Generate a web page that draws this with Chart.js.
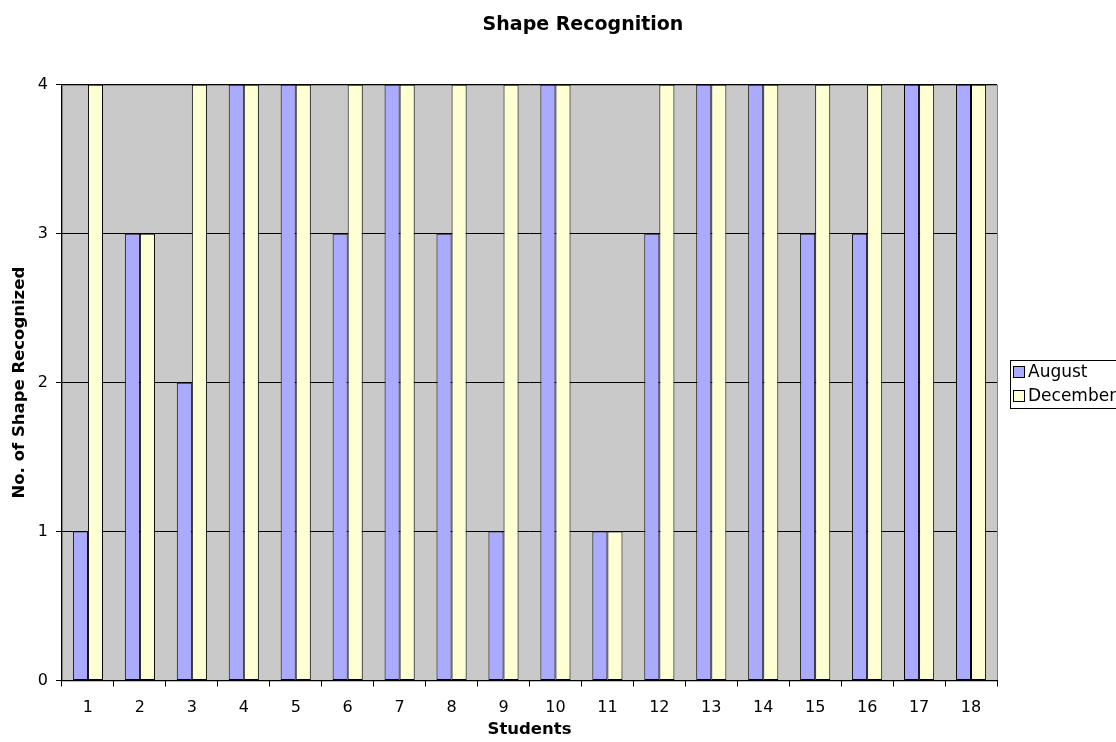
<!DOCTYPE html>
<html>
<head>
<meta charset="utf-8">
<script src="https://cdn.jsdelivr.net/npm/chart.js@4"></script>
<style>
  body { margin: 0; background: #fff; }
  #wrap { width: 1116px; height: 742px; }
</style>
</head>
<body>
<div id="wrap"><canvas id="myChart" width="1116" height="742"></canvas></div>
<script>
const students = ["1","2","3","4","5","6","7","8","9","10","11","12","13","14","15","16","17","18"];
const august   = [1,3,2,4,4,3,4,3,1,4,1,3,4,4,3,3,4,4];
const december = [4,3,4,4,4,4,4,4,4,4,1,4,4,4,4,4,4,4];
const yTicks   = [0,1,2,3,4];

const FONT = "'DejaVu Sans', Verdana, sans-serif";

// grey plot background, boxed legend on the right, title shifted like the original
const plotBg = {
  id: "plotBg",
  afterLayout(chart) {
    // original title is centred a bit right of the plot
    if (chart.titleBlock) {
      chart.titleBlock.left = 50;
      chart.titleBlock.right = chart.width;
    }
  },
  beforeDraw(chart) {
    const { ctx, chartArea: a } = chart;
    ctx.save();
    ctx.fillStyle = "#c9c9c9";
    ctx.fillRect(a.left, a.top, a.right - a.left, a.bottom - a.top);
    ctx.strokeStyle = "#808080";
    ctx.lineWidth = 1;
    ctx.strokeRect(a.left + 0.5, a.top + 0.5, a.right - a.left, a.bottom - a.top);
    ctx.restore();
  },
  afterDraw(chart) {
    const ctx = chart.ctx;
    const a = chart.chartArea;
    const x0 = a.right + 13;
    const top = 360;
    const rowH = 24;
    const sets = chart.data.datasets;
    ctx.save();
    ctx.strokeStyle = "#000";
    ctx.lineWidth = 1;
    ctx.strokeRect(x0 + 0.5, top + 0.5, 130, 48);
    ctx.font = "17px " + FONT;
    ctx.textBaseline = "middle";
    sets.forEach((d, i) => {
      const cy = top + 12 + i * rowH;
      ctx.fillStyle = d.backgroundColor;
      ctx.fillRect(x0 + 3, cy - 5, 11, 11);
      ctx.strokeStyle = "#000";
      ctx.strokeRect(x0 + 3.5, cy - 5.5, 11, 11);
      ctx.fillStyle = "#000";
      ctx.fillText(d.label, x0 + 18, cy + 1);
    });
    ctx.restore();
  },
};

new Chart(document.getElementById("myChart"), {
  type: "bar",
  data: {
    labels: students,
    datasets: [
      {
        label: "August",
        data: august,
        backgroundColor: "#aaaaff",
        borderColor: "#000",
        borderWidth: 1,
        borderSkipped: false,
        barPercentage: 1,
        categoryPercentage: 0.58,
      },
      {
        label: "December",
        data: december,
        backgroundColor: "#ffffd4",
        borderColor: "#000",
        borderWidth: 1,
        borderSkipped: false,
        barPercentage: 1,
        categoryPercentage: 0.58,
      },
    ],
  },
  options: {
    responsive: false,
    animation: false,
    layout: { padding: { left: 4, right: 119, top: 0, bottom: 4 } },
    plugins: {
      title: {
        display: true,
        text: "Shape Recognition",
        color: "#000",
        font: { family: FONT, size: 19, weight: "bold" },
        padding: { top: 14, bottom: 48 },
      },
      legend: { display: false },
      tooltip: { enabled: false },
    },
    scales: {
      x: {
        grid: {
          drawOnChartArea: false,
          drawTicks: true,
          tickLength: 6,
          color: "#000",
          offset: true,
        },
        border: { color: "#000" },
        ticks: { color: "#000", font: { family: FONT, size: 16, lineHeight: 1 }, padding: 13 },
        title: {
          display: true,
          text: "Students",
          color: "#000",
          font: { family: FONT, size: 16.5, weight: "bold", lineHeight: 1 },
          padding: { top: -7, bottom: 0 },
        },
      },
      y: {
        min: 0,
        max: 4,
        afterBuildTicks(axis) {
          axis.ticks = yTicks.map((v) => ({ value: v }));
        },
        grid: { color: "#000", tickLength: 6 },
        border: { color: "#000" },
        ticks: { color: "#000", font: { family: FONT, size: 16 }, padding: 8 },
        title: {
          display: true,
          text: "No. of Shape Recognized",
          color: "#000",
          font: { family: FONT, size: 16.5, weight: "bold" },
          padding: { top: 6, bottom: 0 },
        },
      },
    },
  },
  plugins: [plotBg],
});
</script>
</body>
</html>
